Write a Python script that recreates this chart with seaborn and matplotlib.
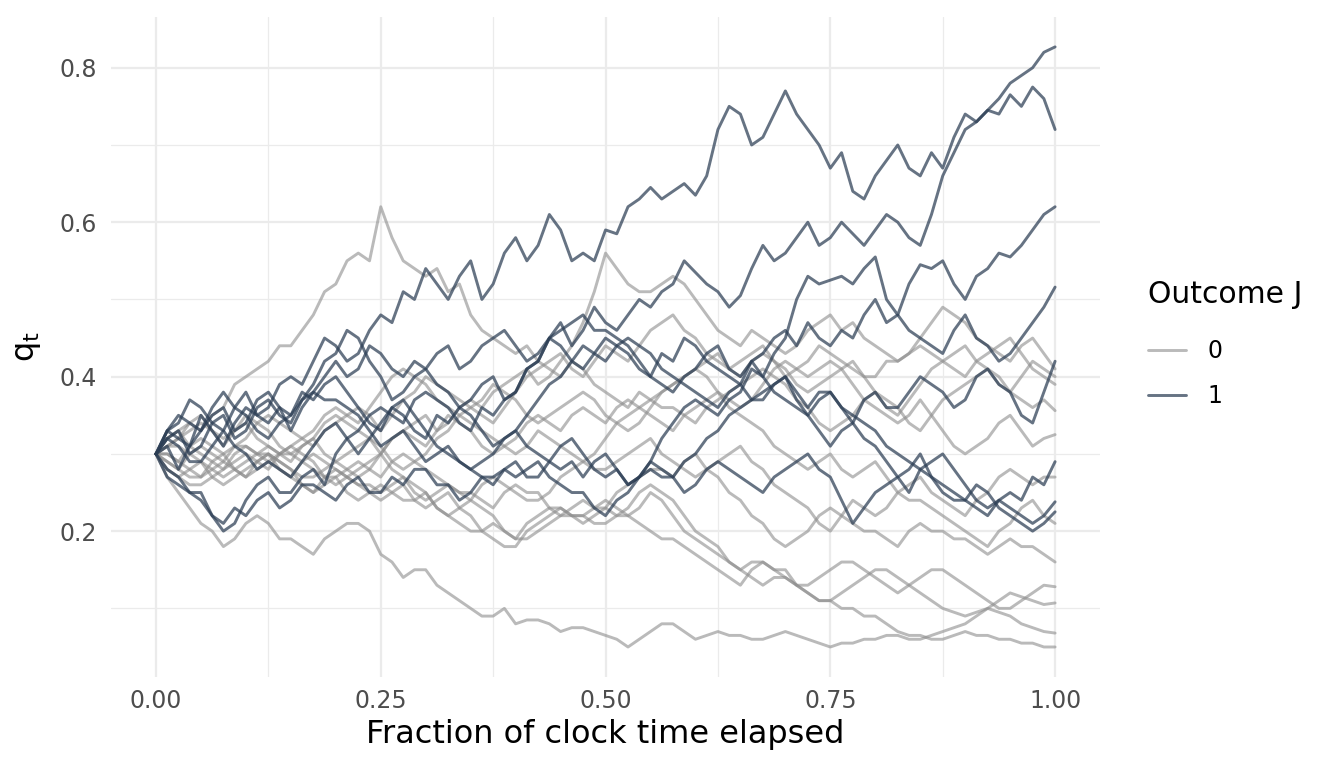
import numpy as np
import pandas as pd
import matplotlib
matplotlib.use("Agg")
import matplotlib.pyplot as plt
import seaborn as sns
from matplotlib.ticker import MultipleLocator

# time grid (fraction of clock time elapsed)
t = [i / 80 for i in range(81)]

# outcome J = 1 paths
A = [.30,.33,.34,.37,.36,.34,.33,.36,.38,.35,
     .36,.39,.40,.39,.42,.45,.44,.42,.43,.46,
     .48,.47,.51,.50,.54,.52,.50,.53,.55,.50,
     .52,.56,.58,.55,.57,.61,.59,.55,.56,.55,
     .59,.585,.62,.63,.645,.63,.64,.65,.635,.66,
     .72,.75,.74,.70,.71,.74,.77,.74,.72,.70,
     .67,.69,.64,.63,.66,.68,.70,.67,.66,.69,
     .67,.71,.74,.73,.745,.74,.765,.75,.775,.76,
     .72]
B = [.30,.33,.32,.31,.35,.33,.31,.34,.36,.35,
     .34,.36,.33,.36,.38,.40,.42,.40,.41,.44,
     .43,.41,.40,.42,.41,.43,.44,.41,.42,.44,
     .45,.46,.44,.42,.43,.45,.47,.44,.46,.49,
     .47,.46,.48,.50,.49,.51,.52,.55,.535,.52,
     .51,.49,.505,.54,.57,.55,.56,.58,.60,.57,
     .58,.60,.585,.57,.59,.61,.60,.58,.57,.61,
     .66,.69,.72,.73,.745,.76,.78,.79,.80,.82,
     .827]
C = [.30,.31,.28,.31,.33,.35,.36,.33,.34,.37,
     .38,.36,.35,.38,.37,.39,.40,.38,.36,.34,
     .33,.36,.35,.33,.32,.35,.34,.36,.37,.39,
     .40,.37,.38,.41,.42,.45,.44,.42,.41,.43,
     .45,.44,.43,.41,.40,.43,.42,.45,.44,.42,
     .41,.40,.39,.42,.40,.43,.45,.50,.53,.52,
     .525,.53,.52,.54,.555,.50,.48,.52,.545,.54,
     .55,.52,.50,.53,.54,.56,.555,.57,.59,.61,
     .62]
D = [.30,.28,.27,.25,.25,.22,.20,.21,.24,.26,
     .27,.25,.25,.27,.28,.26,.30,.32,.33,.35,
     .36,.35,.34,.37,.38,.37,.36,.34,.33,.36,
     .35,.37,.38,.41,.42,.45,.46,.47,.48,.46,
     .46,.45,.44,.42,.40,.39,.38,.40,.41,.43,
     .44,.41,.40,.42,.43,.45,.46,.44,.47,.45,
     .44,.46,.45,.48,.50,.47,.48,.46,.45,.44,
     .43,.46,.48,.45,.44,.42,.43,.45,.47,.49,
     .516]
E = [.30,.32,.33,.30,.31,.34,.35,.32,.33,.36,
     .37,.35,.34,.37,.39,.42,.43,.46,.45,.42,
     .40,.37,.38,.40,.41,.39,.38,.36,.35,.33,
     .31,.32,.33,.31,.30,.29,.28,.29,.27,.29,
     .30,.28,.26,.27,.29,.32,.34,.36,.37,.36,
     .35,.37,.38,.41,.40,.38,.37,.36,.35,.33,
     .31,.33,.34,.37,.38,.36,.36,.38,.40,.39,
     .38,.36,.37,.40,.41,.39,.38,.35,.34,.38,
     .42]
F = [.30,.27,.26,.25,.24,.22,.21,.23,.22,.24,
     .25,.23,.24,.26,.26,.25,.24,.26,.27,.25,
     .25,.27,.26,.28,.28,.26,.26,.24,.25,.27,
     .27,.28,.29,.27,.27,.29,.31,.32,.30,.28,
     .27,.28,.26,.27,.29,.28,.27,.25,.26,.28,
     .29,.28,.27,.26,.25,.27,.28,.29,.30,.28,
     .27,.24,.21,.23,.25,.26,.27,.25,.28,.29,
     .30,.28,.26,.24,.23,.24,.25,.24,.27,.26,
     .29]
G = [.30,.32,.31,.29,.29,.31,.33,.31,.30,.28,
     .29,.28,.27,.29,.31,.33,.34,.32,.30,.32,
     .34,.36,.37,.35,.33,.31,.30,.29,.28,.27,
     .26,.28,.27,.28,.29,.27,.26,.25,.25,.23,
     .22,.24,.25,.27,.28,.27,.27,.29,.30,.32,
     .33,.35,.36,.37,.38,.39,.40,.38,.36,.38,
     .38,.36,.34,.32,.31,.29,.27,.28,.30,.27,
     .25,.24,.24,.23,.22,.24,.23,.22,.21,.22,
     .238]
H = [.30,.33,.35,.34,.33,.36,.38,.36,.35,.33,
     .32,.34,.35,.37,.38,.37,.37,.36,.35,.33,
     .31,.32,.33,.31,.29,.30,.31,.29,.28,.29,
     .30,.32,.33,.35,.37,.39,.40,.42,.44,.43,
     .42,.44,.45,.44,.43,.41,.40,.39,.38,.37,
     .36,.38,.39,.37,.37,.39,.40,.37,.35,.37,
     .38,.36,.35,.34,.33,.31,.30,.29,.28,.27,
     .26,.25,.24,.26,.25,.23,.22,.21,.20,.21,
     .225]

# outcome J = 0 paths
G1 = [.30,.31,.32,.34,.33,.35,.36,.39,.40,.41,
      .42,.44,.44,.46,.48,.51,.52,.55,.56,.55,
      .62,.58,.55,.54,.53,.54,.51,.52,.48,.46,
      .45,.44,.43,.44,.42,.41,.40,.42,.41,.39,
      .38,.37,.36,.38,.37,.38,.39,.40,.41,.42,
      .43,.41,.42,.43,.44,.42,.40,.41,.42,.44,
      .43,.42,.41,.40,.40,.42,.42,.43,.44,.43,
      .42,.41,.40,.42,.43,.44,.45,.43,.41,.40,
      .39]
G2 = [.30,.29,.28,.27,.27,.28,.29,.31,.31,.30,
      .30,.29,.28,.27,.27,.28,.29,.30,.31,.32,
      .30,.32,.33,.34,.35,.33,.34,.36,.37,.36,
      .38,.39,.40,.41,.39,.40,.42,.44,.47,.51,
      .56,.54,.52,.51,.51,.52,.53,.52,.50,.48,
      .46,.45,.44,.46,.45,.44,.43,.44,.46,.47,
      .48,.46,.47,.45,.44,.43,.42,.43,.45,.47,
      .49,.48,.47,.45,.44,.43,.42,.44,.45,.43,
      .41]
G3 = [.30,.27,.25,.23,.21,.20,.18,.19,.21,.22,
      .21,.19,.19,.18,.17,.19,.20,.21,.21,.20,
      .17,.16,.14,.15,.15,.13,.12,.11,.10,.09,
      .09,.10,.08,.085,.085,.08,.07,.075,.075,.07,
      .065,.06,.05,.06,.07,.08,.08,.07,.06,.065,
      .07,.065,.065,.06,.06,.065,.07,.065,.06,.055,
      .05,.055,.055,.06,.06,.065,.065,.06,.06,.065,
      .07,.075,.08,.09,.10,.095,.09,.08,.075,.07,
      .068]
G4 = [.30,.29,.28,.30,.31,.30,.29,.28,.27,.29,
      .30,.29,.28,.26,.25,.26,.27,.25,.24,.25,
      .26,.25,.24,.24,.25,.23,.22,.21,.20,.20,
      .21,.20,.19,.21,.22,.23,.23,.22,.22,.23,
      .24,.23,.22,.21,.20,.19,.19,.18,.17,.16,
      .15,.14,.13,.15,.16,.15,.15,.13,.12,.11,
      .11,.10,.10,.09,.09,.08,.07,.065,.065,.06,
      .06,.065,.07,.065,.065,.06,.06,.055,.055,.05,
      .05]
G5 = [.30,.28,.27,.28,.29,.27,.26,.27,.28,.29,
      .30,.28,.27,.26,.25,.27,.28,.27,.26,.25,
      .24,.25,.26,.24,.23,.24,.25,.23,.22,.20,
      .19,.18,.18,.20,.21,.22,.23,.22,.22,.21,
      .21,.22,.23,.25,.26,.25,.24,.22,.20,.19,
      .18,.16,.15,.14,.13,.14,.14,.13,.12,.11,
      .11,.12,.13,.14,.15,.15,.14,.13,.12,.11,
      .10,.095,.09,.095,.10,.11,.12,.115,.11,.105,
      .107]
G6 = [.30,.32,.33,.31,.30,.29,.28,.30,.31,.30,
      .29,.28,.27,.29,.30,.29,.28,.27,.26,.26,
      .25,.26,.27,.26,.25,.23,.22,.23,.24,.23,
      .22,.20,.19,.19,.20,.21,.22,.22,.21,.22,
      .23,.22,.22,.23,.25,.24,.22,.20,.19,.18,
      .17,.16,.15,.16,.16,.15,.14,.13,.13,.14,
      .15,.16,.16,.15,.14,.13,.12,.13,.14,.15,
      .15,.14,.13,.12,.11,.10,.10,.11,.12,.13,
      .128]
G7 = [.30,.30,.29,.31,.32,.31,.30,.28,.27,.28,
      .29,.30,.31,.30,.29,.27,.26,.27,.28,.29,
      .30,.28,.27,.25,.24,.25,.26,.25,.25,.24,
      .23,.25,.26,.25,.25,.23,.22,.23,.24,.23,
      .23,.25,.26,.27,.28,.28,.27,.29,.30,.28,
      .27,.25,.24,.22,.21,.19,.18,.19,.20,.22,
      .23,.22,.21,.20,.20,.19,.18,.20,.21,.20,
      .20,.19,.19,.18,.17,.18,.19,.18,.18,.17,
      .16]
G8 = [.30,.31,.31,.30,.29,.28,.27,.28,.29,.30,
      .31,.30,.30,.29,.28,.27,.27,.28,.29,.28,
      .27,.29,.30,.29,.28,.27,.26,.25,.24,.26,
      .27,.26,.25,.24,.24,.25,.27,.28,.29,.28,
      .28,.29,.30,.31,.32,.30,.29,.28,.27,.28,
      .29,.30,.31,.29,.28,.26,.25,.24,.23,.21,
      .20,.22,.24,.23,.22,.23,.25,.24,.24,.23,
      .22,.21,.20,.19,.18,.20,.21,.23,.24,.22,
      .21]
G9 = [.30,.31,.32,.33,.34,.33,.31,.33,.35,.34,
      .33,.31,.30,.31,.32,.30,.29,.28,.27,.28,
      .30,.32,.33,.32,.31,.33,.35,.34,.33,.31,
      .30,.31,.32,.34,.35,.34,.33,.35,.36,.35,
      .34,.36,.37,.36,.35,.34,.33,.35,.36,.37,
      .38,.36,.35,.34,.33,.31,.30,.29,.28,.29,
      .30,.28,.27,.28,.29,.27,.25,.26,.27,.25,
      .24,.23,.22,.24,.25,.27,.28,.27,.26,.27,
      .27]
G10 = [.30,.30,.29,.28,.27,.29,.30,.31,.32,.34,
       .35,.34,.33,.32,.31,.33,.34,.35,.36,.35,
       .33,.35,.37,.38,.40,.39,.38,.37,.36,.37,
       .39,.38,.37,.35,.34,.35,.36,.37,.38,.37,
       .35,.34,.33,.34,.36,.38,.39,.40,.41,.40,
       .38,.37,.36,.37,.39,.41,.42,.41,.40,.41,
       .42,.41,.39,.37,.36,.35,.34,.35,.37,.35,
       .33,.31,.30,.31,.32,.34,.35,.33,.31,.32,
       .325]
G11 = [.30,.28,.27,.26,.26,.27,.28,.29,.30,.29,
       .28,.30,.31,.32,.33,.35,.36,.35,.34,.36,
       .38,.40,.41,.40,.39,.37,.36,.35,.34,.33,
       .32,.31,.30,.31,.33,.32,.31,.30,.29,.30,
       .32,.34,.35,.36,.37,.36,.36,.35,.34,.36,
       .37,.38,.39,.40,.41,.40,.39,.37,.36,.34,
       .33,.34,.35,.37,.38,.37,.36,.34,.33,.35,
       .37,.38,.39,.40,.41,.40,.38,.37,.36,.37,
       .356]
G12 = [.30,.32,.33,.34,.35,.33,.32,.33,.34,.32,
       .31,.30,.29,.31,.32,.34,.35,.34,.33,.32,
       .31,.29,.28,.29,.30,.32,.33,.35,.36,.35,
       .34,.36,.38,.40,.41,.42,.43,.41,.40,.42,
       .44,.43,.42,.44,.46,.47,.48,.46,.45,.43,
       .42,.41,.40,.42,.43,.42,.41,.39,.38,.39,
       .40,.41,.42,.40,.38,.36,.35,.37,.39,.41,
       .42,.43,.44,.42,.41,.39,.38,.40,.42,.41,
       .40]

paths_0 = [G1, G2, G3, G4, G5, G6, G7, G8, G9, G10, G11, G12]
paths_1 = [A, B, C, D, E, F, G, H]

rows = []
pid = 0
for outcome, group in (("0", paths_0), ("1", paths_1)):
    for p in group:
        for ti, q in zip(t, p):
            rows.append((pid, outcome, ti, q))
        pid += 1
df = pd.DataFrame(rows, columns=["path", "Outcome J", "time", "q"])

sns.set_theme(style="white")
plt.rcParams["font.family"] = ["DejaVu Sans"]
plt.rcParams["text.color"] = "black"
plt.rcParams["axes.labelcolor"] = "black"

fig = plt.figure(figsize=(13.44, 7.68), dpi=100)
ax = fig.add_axes([0.0826, 0.1185, 0.7359, 0.8595])

palette = {"0": (0.55, 0.55, 0.55, 0.6), "1": (0.17, 0.24, 0.33, 0.72)}
sns.lineplot(data=df, x="time", y="q", hue="Outcome J", units="path",
             estimator=None, palette=palette, linewidth=2.1, ax=ax,
             hue_order=["0", "1"], legend=True)

# ggplot-like expansion
ymin, ymax = df["q"].min(), df["q"].max()
yr = ymax - ymin
ax.set_xlim(-0.05, 1.05)
ax.set_ylim(ymin - 0.05 * yr, ymax + 0.05 * yr)

ax.xaxis.set_minor_locator(MultipleLocator(0.125))
ax.yaxis.set_minor_locator(MultipleLocator(0.1))
ax.set_xticks([0, 0.25, 0.5, 0.75, 1.0])
ax.set_xticklabels(["0.00", "0.25", "0.50", "0.75", "1.00"])
ax.set_yticks([0.2, 0.4, 0.6, 0.8])
ax.set_yticklabels(["0.2", "0.4", "0.6", "0.8"])

ax.grid(which="major", color="#EBEBEB", linewidth=1.6)
ax.grid(which="minor", color="#EBEBEB", linewidth=0.9)
ax.set_axisbelow(True)
for s in ax.spines.values():
    s.set_visible(False)
ax.tick_params(axis="both", which="both", length=0, labelsize=17, labelcolor="#4D4D4D")
ax.tick_params(axis="x", pad=9)
ax.tick_params(axis="y", pad=10)

ax.set_xlabel("Fraction of clock time elapsed", fontsize=23, color="black", labelpad=4)
ax.set_ylabel(r"$\mathregular{q_t}$", fontsize=23, color="black", labelpad=12)

handles, labels = ax.get_legend_handles_labels()
ax.legend_.remove()
for h in handles:
    h.set_linewidth(2.1)
leg = fig.legend(handles, labels, title="Outcome J", loc="center left",
                 bbox_to_anchor=(1127 / 1344, 1 - 344 / 768), frameon=False,
                 fontsize=17, title_fontsize=21.5, handlelength=1.6,
                 handletextpad=0.9, labelspacing=0.9, alignment="left",
                 labelcolor="black")
leg.get_title().set_color("black")
leg._legend_box.sep = 22

fig.savefig("out.png", dpi=100, facecolor="white")
